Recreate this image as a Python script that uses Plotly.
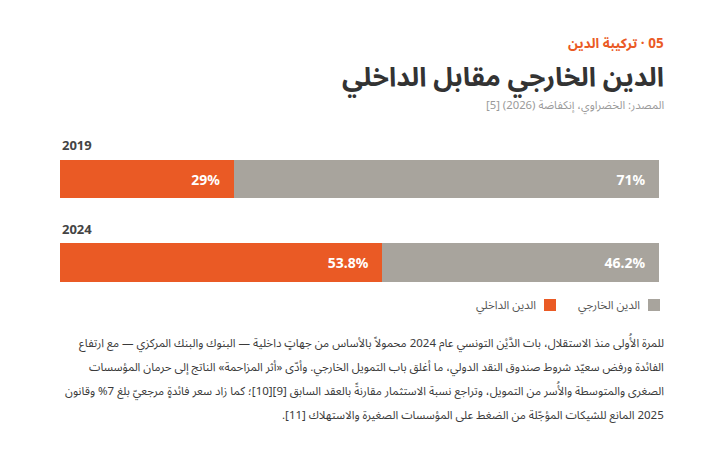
import plotly.graph_objects as go

# ---------------- data ----------------
years = ["2019", "2024"]
domestic = [29, 53.8]
external = [71, 46.2]
domestic_labels = ["29%", "53.8%"]
external_labels = ["71%", "46.2%"]
name_domestic = "الدين الداخلي"
name_external = "الدين الخارجي"

kicker = "05 · تركيبة الدين"
title = "الدين الخارجي مقابل الداخلي"
source = "المصدر: الخضراوي، إنكفاضة (2026) [5]"
body_lines = [
    "للمرة الأُولى منذ الاستقلال، بات الدَّيْن التونسي عام 2024 محمولاً بالأساس من جهاتٍ داخلية — البنوك والبنك المركزي — مع ارتفاع",
    "الفائدة ورفض سعيّد شروط صندوق النقد الدولي، ما أغلق باب التمويل الخارجي. وأدّى «أثر المزاحمة» الناتج إلى حرمان المؤسسات",
    "الصغرى والمتوسطة والأُسر من التمويل، وتراجع نسبة الاستثمار مقارنةً بالعقد السابق [9][10]؛ كما زاد سعر فائدةٍ مرجعيّ بلغ 7% وقانون",
    "2025 المانع للشيكات المؤجّلة من الضغط على المؤسسات الصغيرة والاستهلاك [11].",
]

# ---------------- style ----------------
ORANGE = "#EA5A25"
GRAY = "#A8A49D"
AR_FONT = "Noto Sans Arabic, Noto Kufi Arabic, DejaVu Sans, sans-serif"
NUM_FONT = "Noto Sans, Open Sans, DejaVu Sans, sans-serif"
RLE, PDF = "\u202B", "\u202C"


def rtl(s):
    return RLE + s + PDF


PAD = "\u00a0\u00a0\u00a0"
PLOT_W = 599.0

fig = go.Figure()
fig.add_trace(go.Bar(
    y=years, x=domestic, orientation="h", name=name_domestic,
    marker=dict(color=ORANGE, line=dict(width=0)),
    text=domestic_labels, texttemplate="%{text}" + PAD,
    textposition="inside", insidetextanchor="end", constraintext="none",
    textfont=dict(color="white", size=14, family=NUM_FONT, weight="bold"),
    hoverinfo="skip",
))
fig.add_trace(go.Bar(
    y=years, x=external, orientation="h", name=name_external,
    marker=dict(color=GRAY, line=dict(width=0)),
    text=external_labels, texttemplate="%{text}" + PAD,
    textposition="inside", insidetextanchor="end", constraintext="none",
    textfont=dict(color="white", size=14, family=NUM_FONT, weight="bold"),
    hoverinfo="skip",
))

annotations = []
# year labels above bars
for i, yr in enumerate(years):
    annotations.append(dict(
        x=0, xref="paper", y=i, yref="y", yshift=34, xanchor="left", yanchor="middle",
        text="<b>%s</b>" % yr, showarrow=False,
        font=dict(size=13, color="#444444", family=NUM_FONT),
    ))

# header
annotations += [
    dict(x=1, xref="paper", xshift=7, y=1, yref="paper", yshift=87,
         xanchor="right", yanchor="middle", showarrow=False,
         text="<b>" + rtl(kicker) + "</b>",
         font=dict(size=13.5, color=ORANGE, family=AR_FONT)),
    dict(x=1, xref="paper", xshift=7, y=1, yref="paper", yshift=52,
         xanchor="right", yanchor="middle", showarrow=False,
         text="<b>" + rtl(title) + "</b>",
         font=dict(size=26.5, color="#333333", family=AR_FONT)),
    dict(x=1, xref="paper", xshift=7, y=1, yref="paper", yshift=25,
         xanchor="right", yanchor="middle", showarrow=False,
         text=rtl(source),
         font=dict(size=11.3, color="#9a9a9a", family=AR_FONT)),
]

# legend (manual, RTL)
legend_items = [(name_external, GRAY, 642), (name_domestic, ORANGE, 538)]
shapes = []
for name, col, right_px in legend_items:
    xp = (right_px - 60) / PLOT_W
    annotations.append(dict(
        x=xp, xref="paper", y=0, yref="paper", yshift=-5,
        xanchor="right", yanchor="middle", showarrow=False,
        text=rtl(name), font=dict(size=11.5, color="#555555", family=AR_FONT)))
    shapes.append(dict(
        type="rect", xref="paper", yref="paper", xsizemode="pixel", ysizemode="pixel",
        xanchor=xp, yanchor=0, x0=6, x1=18, y0=1, y1=-11,
        fillcolor=col, line=dict(width=0)))

# body paragraph
for i, line in enumerate(body_lines):
    annotations.append(dict(
        x=1, xref="paper", xshift=7, y=0, yref="paper", yshift=-43 - 24 * i,
        xanchor="right", yanchor="middle", showarrow=False,
        text=rtl(line), font=dict(size=11.5, color="#3a3a3a", family=AR_FONT)))

fig.update_layout(
    barmode="stack",
    bargap=0.54,
    width=720, height=456,
    margin=dict(l=52, r=69, t=122, b=164),
    paper_bgcolor="white", plot_bgcolor="white",
    showlegend=False,
    xaxis=dict(range=[0, 100], visible=False, fixedrange=True),
    yaxis=dict(type="category", range=[1.449, -0.587], visible=False, fixedrange=True),
    annotations=annotations,
    shapes=shapes,
    font=dict(family=AR_FONT),
)

fig.write_html("out.html", config={"displayModeBar": False})
